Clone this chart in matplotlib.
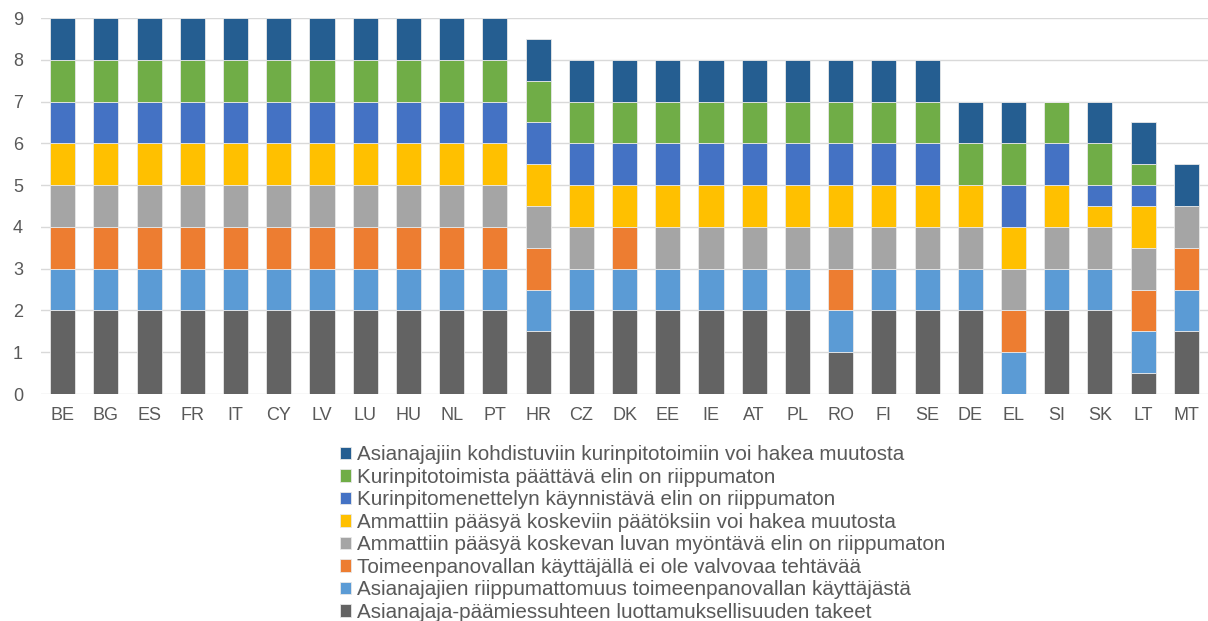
import matplotlib

matplotlib.use("Agg")
import matplotlib.pyplot as plt
import numpy as np

countries = ["BE", "BG", "ES", "FR", "IT", "CY", "LV", "LU", "HU", "NL", "PT",
             "HR", "CZ", "DK", "EE", "IE", "AT", "PL", "RO", "FI", "SE", "DE",
             "EL", "SI", "SK", "LT", "MT"]

series_names = [
    "Asianajaja-päämiessuhteen luottamuksellisuuden takeet",
    "Asianajajien riippumattomuus toimeenpanovallan käyttäjästä",
    "Toimeenpanovallan käyttäjällä ei ole valvovaa tehtävää",
    "Ammattiin pääsyä koskevan luvan myöntävä elin on riippumaton",
    "Ammattiin pääsyä koskeviin päätöksiin voi hakea muutosta",
    "Kurinpitomenettelyn käynnistävä elin on riippumaton",
    "Kurinpitotoimista päättävä elin on riippumaton",
    "Asianajajiin kohdistuviin kurinpitotoimiin voi hakea muutosta",
]

confidentiality = [2, 2, 2, 2, 2, 2, 2, 2, 2, 2, 2, 1.5, 2, 2, 2, 2, 2, 2, 1, 2, 2, 2, 0, 2, 2, 0.5, 1.5]
independence_exec = [1, 1, 1, 1, 1, 1, 1, 1, 1, 1, 1, 1, 1, 1, 1, 1, 1, 1, 1, 1, 1, 1, 1, 1, 1, 1, 1]
no_supervision = [1, 1, 1, 1, 1, 1, 1, 1, 1, 1, 1, 1, 0, 1, 0, 0, 0, 0, 1, 0, 0, 0, 1, 0, 0, 1, 1]
admission_body = [1, 1, 1, 1, 1, 1, 1, 1, 1, 1, 1, 1, 1, 0, 1, 1, 1, 1, 1, 1, 1, 1, 1, 1, 1, 1, 1]
admission_appeal = [1, 1, 1, 1, 1, 1, 1, 1, 1, 1, 1, 1, 1, 1, 1, 1, 1, 1, 1, 1, 1, 1, 1, 1, 0.5, 1, 0]
disc_initiating = [1, 1, 1, 1, 1, 1, 1, 1, 1, 1, 1, 1, 1, 1, 1, 1, 1, 1, 1, 1, 1, 0, 1, 1, 0.5, 0.5, 0]
disc_deciding = [1, 1, 1, 1, 1, 1, 1, 1, 1, 1, 1, 1, 1, 1, 1, 1, 1, 1, 1, 1, 1, 1, 1, 1, 1, 0.5, 0]
disc_appeal = [1, 1, 1, 1, 1, 1, 1, 1, 1, 1, 1, 1, 1, 1, 1, 1, 1, 1, 1, 1, 1, 1, 1, 0, 1, 1, 1]

colors = ["#636363", "#5B9BD5", "#ED7D31", "#A5A5A5",
          "#FFC000", "#4472C4", "#70AD47", "#255E91"]

plt.rcParams["font.family"] = ["Liberation Sans", "DejaVu Sans"]
text_color = "#595959"

fig = plt.figure(figsize=(12.08, 6.21), dpi=100)
ax = fig.add_axes([0.034, 0.3655, 0.966, 0.6055])

x = np.arange(len(countries))
bottom = np.zeros(len(countries))
handles = []
all_series = [confidentiality, independence_exec, no_supervision, admission_body,
              admission_appeal, disc_initiating, disc_deciding, disc_appeal]
for values, color, name in zip(all_series, colors, series_names):
    values = np.array(values, dtype=float)
    bars = ax.bar(x, values, bottom=bottom, width=0.58, color=color,
                  edgecolor="#E8E8E8", linewidth=0.6, label=name, zorder=3)
    handles.append(bars)
    bottom += values

ax.set_xlim(-0.5, len(countries) - 0.5)
ax.set_ylim(0, 9)
ax.set_yticks(range(10))
ax.set_xticks(x)
ax.set_xticklabels(countries)
ax.yaxis.grid(True, color="#D9D9D9", linewidth=1, zorder=0)
ax.set_axisbelow(True)
for side in ["top", "right", "left", "bottom"]:
    ax.spines[side].set_visible(False)
ax.tick_params(axis="both", length=0, labelsize=13, colors=text_color)
ax.tick_params(axis="x", pad=9.5)
ax.tick_params(axis="y", pad=13)

# legend listed top series first, stacked under the plot
fig.legend(handles[::-1], series_names[::-1], loc="upper left",
           bbox_to_anchor=(0.2815, 0.283), frameon=False, fontsize=14.9,
           labelcolor=text_color, handlelength=0.53, handleheight=0.53,
           handletextpad=0.3, labelspacing=0.17, borderpad=0, borderaxespad=0)

fig.savefig("out.png", dpi=100)
